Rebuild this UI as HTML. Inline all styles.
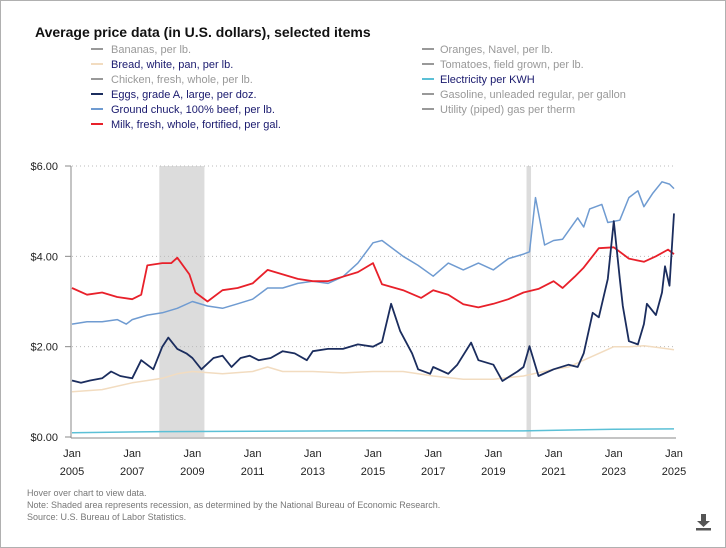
<!DOCTYPE html>
<html><head><meta charset="utf-8"><style>
body{margin:0;background:#fff;font-family:"Liberation Sans",sans-serif;}
#wrap{position:relative;width:724px;height:546px;border:1px solid #b0b0b0;background:#fff;overflow:hidden}
.t{position:absolute;white-space:nowrap}
</style></head><body>
<div id="wrap">
<div class="t" style="left:34px;top:23px;font-size:14px;font-weight:bold;color:#111">Average price data (in U.S. dollars), selected items</div>
<svg id="c" width="724" height="546" style="position:absolute;left:0;top:0"></svg>
<div class="t" style="left:26px;top:487px;font-size:9px;color:#777">Hover over chart to view data.</div>
<div class="t" style="left:26px;top:499px;font-size:9px;color:#777">Note: Shaded area represents recession, as determined by the National Bureau of Economic Research.</div>
<div class="t" style="left:26px;top:511px;font-size:9px;color:#777">Source: U.S. Bureau of Labor Statistics.</div>
<svg style="position:absolute;left:693px;top:511px" width="20" height="20"><path d="M7 2h5v7h4l-6.5 6L3 9h4z" fill="#555"/><rect x="2" y="16" width="15" height="2.5" fill="#555"/></svg>
</div>
<script>
const eggYears=[2005,2005.3,2005.6,2006,2006.3,2006.6,2007,2007.3,2007.7,2008,2008.2,2008.5,2008.8,2009,2009.3,2009.7,2010,2010.3,2010.6,2010.9,2011.2,2011.6,2012,2012.4,2012.8,2013,2013.5,2014,2014.5,2015,2015.3,2015.6,2015.9,2016.3,2016.5,2016.9,2017.0,2017.5,2017.8,2018.26,2018.5,2019,2019.3,2019.8,2020.0,2020.2,2020.5,2021,2021.5,2021.8,2022.0,2022.3,2022.5,2022.8,2023.0,2023.2,2023.3,2023.5,2023.8,2024.0,2024.1,2024.4,2024.6,2024.7,2024.85,2025.0];
const eggVals=[1.25,1.2,1.25,1.3,1.45,1.35,1.3,1.7,1.5,2.0,2.2,1.95,1.85,1.75,1.5,1.75,1.8,1.55,1.75,1.8,1.7,1.75,1.9,1.85,1.7,1.9,1.95,1.95,2.05,2.0,2.1,2.95,2.35,1.85,1.5,1.4,1.55,1.4,1.6,2.09,1.7,1.6,1.24,1.45,1.55,2.01,1.35,1.5,1.6,1.55,1.85,2.75,2.65,3.5,4.78,3.5,2.9,2.12,2.05,2.5,2.95,2.7,3.2,3.78,3.35,4.95];
const beefYears=[2005,2005.5,2006,2006.5,2006.8,2007,2007.5,2008,2008.5,2009,2009.5,2010,2010.5,2011,2011.5,2012,2012.5,2013,2013.5,2014,2014.5,2015,2015.3,2016,2016.5,2017,2017.5,2018,2018.5,2019,2019.5,2020,2020.2,2020.4,2020.7,2021,2021.3,2021.8,2022.0,2022.2,2022.6,2022.8,2023.2,2023.5,2023.8,2024.0,2024.3,2024.6,2024.85,2025];
const beefVals=[2.5,2.55,2.55,2.6,2.5,2.6,2.7,2.75,2.85,3.0,2.9,2.85,2.95,3.05,3.3,3.3,3.4,3.45,3.4,3.55,3.85,4.3,4.35,4.0,3.8,3.56,3.85,3.7,3.85,3.7,3.95,4.05,4.1,5.3,4.25,4.35,4.38,4.85,4.65,5.05,5.15,4.75,4.8,5.3,5.45,5.1,5.4,5.65,5.6,5.5];
const milkYears=[2005,2005.5,2006,2006.5,2007,2007.3,2007.5,2008,2008.3,2008.5,2008.9,2009.1,2009.5,2010,2010.5,2011,2011.5,2012,2012.5,2013,2013.5,2014,2014.5,2015,2015.3,2016,2016.6,2017,2017.5,2018,2018.5,2019,2019.5,2020,2020.5,2021,2021.3,2021.7,2022,2022.5,2023,2023.5,2024,2024.4,2024.8,2025];
const milkVals=[3.3,3.15,3.2,3.1,3.05,3.15,3.8,3.85,3.85,3.97,3.6,3.2,3.0,3.25,3.3,3.4,3.7,3.6,3.5,3.45,3.45,3.55,3.65,3.85,3.38,3.25,3.08,3.25,3.15,2.94,2.87,2.95,3.05,3.2,3.28,3.45,3.3,3.55,3.75,4.18,4.2,3.95,3.88,4.0,4.15,4.05];
const breadYears=[2005,2006,2007,2008,2008.5,2009,2010,2011,2011.5,2012,2013,2014,2015,2016,2017,2018,2019,2020,2021,2021.5,2022,2022.5,2023,2023.5,2024,2024.5,2025];
const breadVals=[1.0,1.05,1.2,1.3,1.4,1.45,1.4,1.45,1.55,1.45,1.45,1.42,1.45,1.45,1.35,1.28,1.28,1.35,1.5,1.55,1.7,1.85,2.0,2.0,2.02,1.98,1.93];
const elecYears=[2005,2008,2010,2015,2020,2022,2023,2025];
const elecVals=[0.095,0.12,0.125,0.14,0.135,0.16,0.17,0.18];
const yTicks=[0,2,4,6];
const yTickLabels=["$0.00","$2.00","$4.00","$6.00"];
const xTicks=[2005,2007,2009,2011,2013,2015,2017,2019,2021,2023,2025];
const recessions=[[2007.9,2009.4],[2020.1,2020.25]];
const legendLeft=[["Bananas, per lb.","#999","#999"],["Bread, white, pan, per lb.","#f2dcc0","#1a1a6e"],["Chicken, fresh, whole, per lb.","#999","#999"],["Eggs, grade A, large, per doz.","#1b2d5e","#1a1a6e"],["Ground chuck, 100% beef, per lb.","#6f9bd1","#1a1a6e"],["Milk, fresh, whole, fortified, per gal.","#e8202a","#1a1a6e"]];
const legendRight=[["Oranges, Navel, per lb.","#999","#999"],["Tomatoes, field grown, per lb.","#999","#999"],["Electricity per KWH","#5bc0d6","#1a1a6e"],["Gasoline, unleaded regular, per gallon","#999","#999"],["Utility (piped) gas per therm","#999","#999"]];

const NS="http://www.w3.org/2000/svg",svg=document.getElementById('c');
const X0=71,X1=673,Y0=436,Y6=165;
const xs=y=>X0+(y-2005)/20*(X1-X0);
const ys=v=>Y0-v/6*(Y0-Y6);
function mk(t,a,p){const e=document.createElementNS(NS,t);for(const k in a)e.setAttribute(k,a[k]);(p||svg).appendChild(e);return e;}
recessions.forEach(r=>{const e=mk('rect',{x:xs(r[0]),y:Y6,width:xs(r[1])-xs(r[0]),height:Y0-Y6,fill:'#dcdcdc'});

});
yTicks.forEach((t,i)=>{if(t>0){const g=mk('line',{x1:X0,x2:675,y1:ys(t),y2:ys(t),stroke:'#bbb','stroke-dasharray':'1,3'});

}
const l=mk('text',{x:57,y:ys(t)+4,'text-anchor':'end','font-size':11,fill:'#222'});l.textContent=yTickLabels[i];


mk('line',{x1:64,x2:70,y1:ys(t),y2:ys(t),stroke:'#888'});});
mk('line',{x1:70,x2:70,y1:Y6,y2:Y0+1,stroke:'#888'});
mk('line',{x1:70,x2:675,y1:Y0+1,y2:Y0+1,stroke:'#888'});
xTicks.forEach(t=>{const a=mk('text',{x:xs(t),y:456,'text-anchor':'middle','font-size':11,fill:'#222'});a.textContent='Jan';


const b=mk('text',{x:xs(t),y:474,'text-anchor':'middle','font-size':11,fill:'#222'});b.textContent=t;

});
function line(xsA,vs,col,w,name){const d=xsA.map((y,i)=>(i?'L':'M')+xs(y).toFixed(1)+','+ys(vs[i]).toFixed(1)).join('');
const p=mk('path',{d:d,fill:'none',stroke:col,'stroke-width':w,'stroke-linejoin':'round'});

}
line(elecYears,elecVals,'#5bc0d6',1.5,'electricity-line');
line(breadYears,breadVals,'#f2dcc0',1.5,'bread-line');
line(beefYears,beefVals,'#6f9bd1',1.5,'ground-chuck-line');
line(milkYears,milkVals,'#e8202a',1.8,'milk-line');
line(eggYears,eggVals,'#1b2d5e',1.8,'eggs-line');
function legend(arr,lx,tx){arr.forEach((it,i)=>{const y=44+i*15;
mk('line',{x1:lx,x2:lx+12,y1:y+4,y2:y+4,stroke:it[1],'stroke-width':2});
const t=mk('text',{x:tx,y:y+8,'font-size':11,fill:it[2]});t.textContent=it[0];

});}
legend(legendLeft,90,110);legend(legendRight,421,439);
</script>
</body></html>
